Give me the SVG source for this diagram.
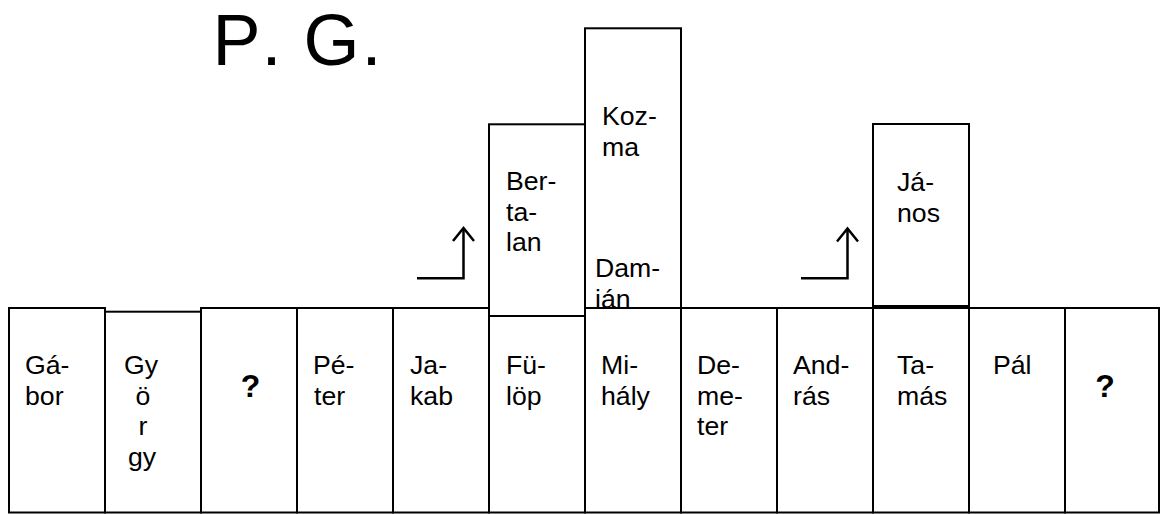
<svg xmlns="http://www.w3.org/2000/svg" width="1161" height="514" viewBox="0 0 1161 514">
<style>
.b{fill:#fff;stroke:#000;stroke-width:2}
.t{font-family:"Liberation Sans",Arial,sans-serif;font-size:26.67px;fill:#000}
.q{font-family:"Liberation Sans",Arial,sans-serif;font-size:32px;font-weight:bold;fill:#000}
.ttl{font-family:"Liberation Sans",Arial,sans-serif;font-size:72px;fill:#000}
.a{fill:none;stroke:#000;stroke-width:2.5;marker-end:url(#open)}
</style>
<defs>
<marker id="open" markerUnits="userSpaceOnUse" viewBox="-14 -12 16 24" refX="0" refY="0" markerWidth="16" markerHeight="24" orient="auto" overflow="visible">
<path d="M-13,-10.5 L0,0 L-13,10.5" fill="none" stroke="#000" stroke-width="2.5"/>
</marker>
</defs>
<rect width="1161" height="514" fill="#fff"/>
<g id="title"><text class="ttl" y="65"><tspan x="212.5">P</tspan><tspan x="261.5">.</tspan><tspan x="303.5">G</tspan><tspan x="361.5">.</tspan></text></g>

<g id="kozma-damian"><rect class="b" x="585" y="28.3" width="96" height="279.7"/>
<text class="t"><tspan x="602" y="125">Koz-</tspan><tspan x="602" y="155.7">ma</tspan></text>
<text class="t"><tspan x="595" y="277">Dam-</tspan><tspan x="595" y="307.7">ián</tspan></text></g>
<g id="bertalan"><rect class="b" x="489" y="124.3" width="96" height="191.7"/>
<text class="t"><tspan x="506" y="190">Ber-</tspan><tspan x="506" y="220.7">ta-</tspan><tspan x="506" y="251.3">lan</tspan></text></g>
<g id="janos"><rect class="b" x="873" y="124" width="96" height="182"/>
<text class="t"><tspan x="897" y="191">Já-</tspan><tspan x="897" y="221.7">nos</tspan></text></g>

<g id="gabor"><rect class="b" x="9" y="308" width="96" height="204.5"/>
<text class="t"><tspan x="25" y="374">Gá-</tspan><tspan x="25" y="404.7">bor</tspan></text></g>
<g id="gyorgy"><rect class="b" x="105" y="311.7" width="96" height="200.8"/>
<text class="t" text-anchor="middle"><tspan x="141" y="374">Gy</tspan><tspan x="143" y="404.7">ö</tspan><tspan x="143" y="435.3">r</tspan><tspan x="142" y="466">gy</tspan></text></g>
<g id="q1"><rect class="b" x="201" y="308" width="96" height="204.5"/>
<text class="q" x="250.5" y="397" text-anchor="middle">?</text></g>
<g id="peter"><rect class="b" x="297" y="308" width="96" height="204.5"/>
<text class="t"><tspan x="313" y="374">Pé-</tspan><tspan x="314" y="404.7">ter</tspan></text></g>
<g id="jakab"><rect class="b" x="393" y="308" width="96" height="204.5"/>
<text class="t"><tspan x="410" y="374">Ja-</tspan><tspan x="410" y="404.7">kab</tspan></text></g>
<g id="fulop"><rect class="b" x="489" y="316" width="96" height="196.5"/>
<text class="t"><tspan x="506" y="374">Fü-</tspan><tspan x="506" y="404.7">löp</tspan></text></g>
<g id="mihaly"><rect class="b" x="585" y="308" width="96" height="204.5"/>
<text class="t"><tspan x="601" y="374">Mi-</tspan><tspan x="601" y="404.7">hály</tspan></text></g>
<g id="demeter"><rect class="b" x="681" y="308" width="96" height="204.5"/>
<text class="t"><tspan x="697" y="374">De-</tspan><tspan x="697" y="404.7">me-</tspan><tspan x="697" y="435.3">ter</tspan></text></g>
<g id="andras"><rect class="b" x="777" y="308" width="96" height="204.5"/>
<text class="t"><tspan x="793" y="374">And-</tspan><tspan x="793" y="404.7">rás</tspan></text></g>
<g id="tamas"><rect class="b" x="873" y="308" width="96" height="204.5"/>
<text class="t"><tspan x="897" y="374">Ta-</tspan><tspan x="897" y="404.7">más</tspan></text></g>
<g id="pal"><rect class="b" x="969" y="308" width="96" height="204.5"/>
<text class="t" x="993" y="374">Pál</text></g>
<g id="q2"><rect class="b" x="1065" y="308" width="94" height="204.5"/>
<text class="q" x="1105" y="397" text-anchor="middle">?</text></g>

<g id="connectors">
<path class="a" d="M417,278.3 H463.5 V228"/>
<path class="a" d="M801,278.3 H847.5 V228.5"/>
</g>
</svg>
